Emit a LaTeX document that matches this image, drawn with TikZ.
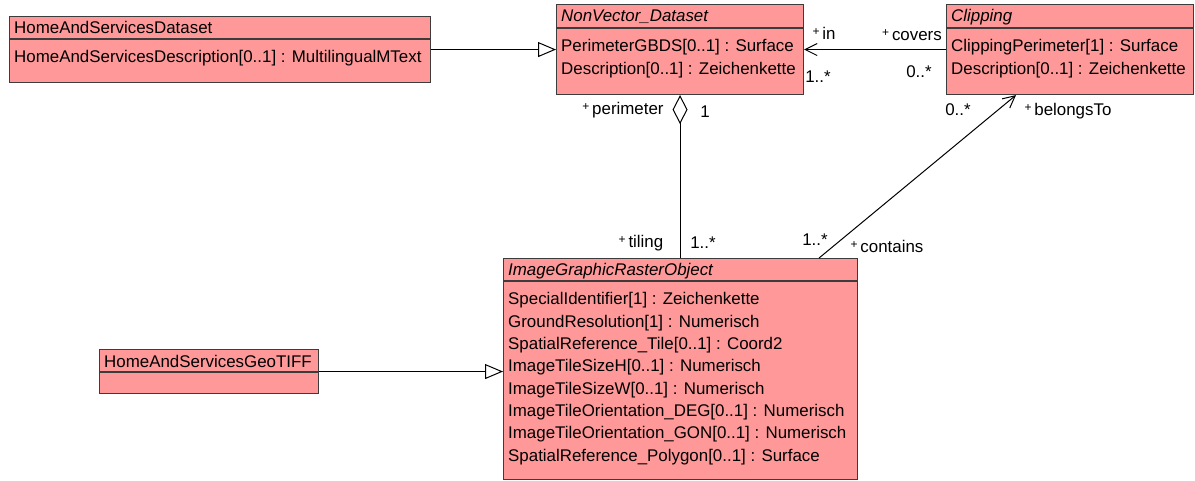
\documentclass[tikz,border=0pt]{standalone}
\usepackage{fontspec}
\setmainfont{Liberation Sans}
\usetikzlibrary{arrows.meta,positioning,calc}
\definecolor{umlfill}{RGB}{255,153,153}
\definecolor{umlline}{RGB}{60,60,60}
\newcommand{\umlrole}[1]{\raisebox{0.45ex}{\fontsize{12}{12}\selectfont+}\,#1}

\begin{document}
\begin{tikzpicture}[x=1pt,y=-1pt,
    every node/.style={font=\fontsize{16.9}{22.3}\selectfont},
    classbox/.style={draw=umlline, fill=umlfill, line width=1.1pt, anchor=north west, inner sep=0pt},
    classname/.style={anchor=base west, inner sep=0pt},
    attrs/.style={anchor=north west, inner sep=0pt, align=left},
    rolelabel/.style={inner sep=0pt},
    assoc/.style={line width=1pt},
    inherit/.style={line width=1pt, -{Triangle[open, length=18pt, width=15pt]}},
    navig/.style={line width=1pt, -{Straight Barb[length=12pt, width=12pt]}}]
    \useasboundingbox (0,0) rectangle (1195,481);

    % HomeAndServicesDataset
    \node[classbox, minimum width=421pt, minimum height=66pt] (hsd) at (9,16) {};
    \draw[umlline, line width=1.1pt] ([yshift=-23pt]hsd.north west) -- ([yshift=-23pt]hsd.north east);
    \node[classname] (hsdName) at ([xshift=5pt,yshift=-18pt]hsd.north west) {HomeAndServicesDataset};
    \node[attrs] (hsdAttr) at ([xshift=5pt,yshift=-34.5pt]hsd.north west) {HomeAndServicesDescription[0..1] : MultilingualMText};

    % NonVector_Dataset
    \node[classbox, minimum width=247pt, minimum height=90pt] (nvd) at (556,4) {};
    \draw[umlline, line width=1.1pt] ([yshift=-24pt]nvd.north west) -- ([yshift=-24pt]nvd.north east);
    \node[classname, font=\fontsize{16.9}{22.3}\selectfont\itshape] (nvdName) at ([xshift=5pt,yshift=-18pt]nvd.north west) {NonVector\_Dataset};
    \node[attrs] (nvdAttr) at ([xshift=5pt,yshift=-35.5pt]nvd.north west) {PerimeterGBDS[0..1] : Surface\\Description[0..1] : Zeichenkette};

    % Clipping
    \node[classbox, minimum width=247pt, minimum height=90pt] (clp) at (946,4) {};
    \draw[umlline, line width=1.1pt] ([yshift=-24pt]clp.north west) -- ([yshift=-24pt]clp.north east);
    \node[classname, font=\fontsize{16.9}{22.3}\selectfont\itshape] (clpName) at ([xshift=5pt,yshift=-18pt]clp.north west) {Clipping};
    \node[attrs] (clpAttr) at ([xshift=5pt,yshift=-35.5pt]clp.north west) {ClippingPerimeter[1] : Surface\\Description[0..1] : Zeichenkette};

    % ImageGraphicRasterObject
    \node[classbox, minimum width=354pt, minimum height=221pt] (igro) at (503,258) {};
    \draw[umlline, line width=1.1pt] ([yshift=-23pt]igro.north west) -- ([yshift=-23pt]igro.north east);
    \node[classname, font=\fontsize{16.9}{22.3}\selectfont\itshape] (igroName) at ([xshift=5pt,yshift=-18pt]igro.north west) {ImageGraphicRasterObject};
    \node[attrs] (igroAttr) at ([xshift=5pt,yshift=-34.5pt]igro.north west) {SpecialIdentifier[1] : Zeichenkette\\
        GroundResolution[1] : Numerisch\\
        SpatialReference\_Tile[0..1] : Coord2\\
        ImageTileSizeH[0..1] : Numerisch\\
        ImageTileSizeW[0..1] : Numerisch\\
        ImageTileOrientation\_DEG[0..1] : Numerisch\\
        ImageTileOrientation\_GON[0..1] : Numerisch\\
        SpatialReference\_Polygon[0..1] : Surface};

    % HomeAndServicesGeoTIFF
    \node[classbox, minimum width=219pt, minimum height=44pt] (geo) at (99,349) {};
    \draw[umlline, line width=1.1pt] ([yshift=-23pt]geo.north west) -- ([yshift=-23pt]geo.north east);
    \node[classname] (geoName) at ([xshift=5pt,yshift=-18pt]geo.north west) {HomeAndServicesGeoTIFF};

    % connectors
    \draw[inherit] (hsd.east) -- (hsd.east -| nvd.west);
    \draw[navig] (clp.west) -- (clp.west -| nvd.east);
    \draw[assoc, {Diamond[open, length=29pt, width=15pt]}-] (nvd.south) -- (nvd.south |- igro.north);
    \draw[navig] ([xshift=-39pt]igro.north east) -- ([xshift=70pt]clp.south west);
    \draw[inherit] (geo.east) -- (geo.east -| igro.west);

    % role names and multiplicities
    \node[rolelabel] (inLbl) at (824,33) {\umlrole{in}};
    \node[rolelabel] (coversLbl) at (912,35) {\umlrole{covers}};
    \node[rolelabel] (nvdMult) at (818,77) {1..*};
    \node[rolelabel] (clpMult) at (919,72) {0..*};
    \node[rolelabel] (perimLbl) at (623,110) {\umlrole{perimeter}};
    \node[rolelabel] (perimMult) at (705,112) {1};
    \node[rolelabel] (tilingLbl) at (641,243) {\umlrole{tiling}};
    \node[rolelabel] (tilingMult) at (703,243) {1..*};
    \node[rolelabel] (containsMult) at (815,240) {1..*};
    \node[rolelabel] (containsLbl) at (887,246) {\umlrole{contains}};
    \node[rolelabel] (belongsMult) at (958,110) {0..*};
    \node[rolelabel] (belongsLbl) at (1068,111) {\umlrole{belongsTo}};
\end{tikzpicture}
\end{document}
